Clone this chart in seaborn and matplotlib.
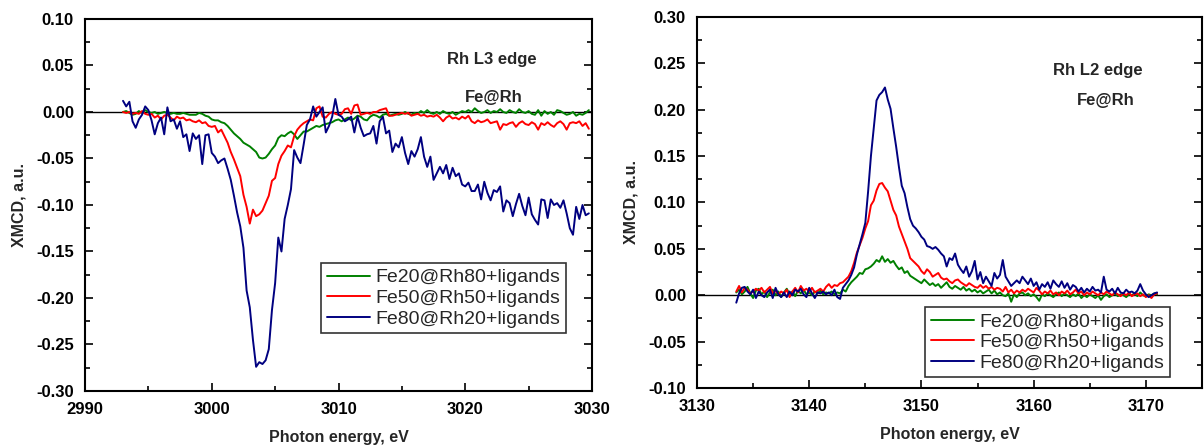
import numpy as np
import pandas as pd
import matplotlib
matplotlib.use("Agg")
import matplotlib.pyplot as plt
from matplotlib.ticker import MultipleLocator, FormatStrFormatter
import seaborn as sns

# ─── Data ─────────────────────────────────────────────────────────────────────
SAMPLES = ["Fe20@Rh80+ligands", "Fe50@Rh50+ligands", "Fe80@Rh20+ligands"]
COLORS = {"Fe20@Rh80+ligands": "#008000",
          "Fe50@Rh50+ligands": "#ff0000",
          "Fe80@Rh20+ligands": "#000080"}

# Rh L3 edge, scan grid 2993.00 ... 3029.75 eV, 0.25 eV step
energy_l3 = np.arange(2993.0, 3029.76, 0.25)

l3_fe20 = [
    0.000, 0.001, -0.001, -0.003, -0.002, 0.001, -0.001, 0.002, 0.000, -0.001, 0.000, -0.002, -0.001, 0.000, -0.001, -0.002,
    -0.001, -0.002, -0.002, -0.001, -0.002, -0.003, -0.003, -0.003, -0.001, -0.002, -0.004, -0.005, -0.008, -0.009, -0.009, -0.011,
    -0.012, -0.015, -0.019, -0.023, -0.026, -0.029, -0.033, -0.035, -0.037, -0.040, -0.043, -0.049, -0.050, -0.049, -0.045, -0.040,
    -0.036, -0.028, -0.025, -0.026, -0.023, -0.021, -0.024, -0.029, -0.025, -0.021, -0.021, -0.019, -0.017, -0.015, -0.016, -0.014,
    -0.013, -0.012, -0.011, -0.009, -0.008, -0.010, -0.008, -0.006, -0.009, -0.007, -0.004, -0.005, -0.008, -0.009, -0.005, -0.003,
    -0.004, -0.006, -0.003, -0.002, -0.004, -0.003, -0.002, -0.003, -0.002, 0.000, -0.002, -0.003, -0.001, -0.002, 0.001, -0.001,
    0.002, -0.001, -0.002, 0.000, -0.002, 0.001, -0.001, -0.002, 0.000, -0.003, -0.001, 0.001, 0.000, 0.002, 0.000, 0.004,
    0.001, -0.001, 0.000, 0.002, -0.001, 0.001, 0.000, 0.003, 0.000, -0.001, 0.002, 0.000, -0.001, 0.003, 0.000, -0.001,
    0.001, -0.002, -0.003, 0.002, -0.004, 0.001, -0.002, 0.000, -0.003, 0.002, 0.001, -0.001, -0.003, -0.002, 0.000, -0.004,
    -0.002, -0.003, -0.001, 0.002,
]
l3_fe50 = [
    0.000, -0.001, 0.000, -0.002, -0.001, -0.002, 0.001, -0.002, -0.003, -0.002, -0.006, -0.004, -0.008, -0.004, -0.003, -0.006,
    -0.009, -0.005, -0.007, -0.006, -0.009, -0.008, -0.010, -0.011, -0.009, -0.012, -0.011, -0.015, -0.016, -0.015, -0.022, -0.019,
    -0.026, -0.033, -0.043, -0.051, -0.060, -0.069, -0.089, -0.102, -0.120, -0.105, -0.112, -0.110, -0.106, -0.098, -0.090, -0.074,
    -0.071, -0.056, -0.047, -0.042, -0.036, -0.038, -0.026, -0.019, -0.015, -0.012, -0.010, -0.008, -0.009, 0.004, 0.006, -0.005,
    -0.006, -0.002, 0.000, -0.002, -0.003, -0.002, 0.003, 0.004, -0.002, 0.007, 0.008, -0.003, -0.002, -0.001, -0.002, 0.000,
    0.000, 0.002, 0.003, 0.004, -0.004, -0.004, -0.003, -0.002, -0.001, -0.002, -0.001, -0.004, -0.003, -0.002, -0.004, -0.003,
    -0.005, -0.004, -0.005, -0.003, -0.006, -0.010, -0.006, -0.004, -0.007, -0.006, -0.008, -0.005, -0.007, -0.004, -0.010, -0.012,
    -0.009, -0.011, -0.010, -0.008, -0.012, -0.011, -0.010, -0.019, -0.013, -0.014, -0.012, -0.011, -0.016, -0.012, -0.010, -0.013,
    -0.014, -0.011, -0.013, -0.019, -0.012, -0.014, -0.011, -0.014, -0.016, -0.012, -0.010, -0.013, -0.019, -0.012, -0.011, -0.012,
    -0.010, -0.015, -0.012, -0.018,
]
l3_fe80 = [
    0.012, 0.006, 0.011, -0.010, -0.017, -0.008, -0.003, 0.006, 0.002, -0.009, -0.024, -0.012, -0.006, -0.024, 0.005, -0.010,
    -0.008, -0.018, -0.010, -0.027, -0.024, -0.042, -0.023, -0.029, -0.025, -0.056, -0.025, -0.024, -0.044, -0.048, -0.055, -0.052,
    -0.050, -0.061, -0.073, -0.090, -0.108, -0.123, -0.146, -0.192, -0.210, -0.245, -0.274, -0.269, -0.271, -0.267, -0.255, -0.213,
    -0.184, -0.135, -0.150, -0.115, -0.100, -0.083, -0.041, -0.049, -0.055, -0.035, -0.014, -0.008, 0.006, -0.005, 0.000, 0.005,
    -0.022, -0.015, -0.005, 0.014, -0.003, -0.005, -0.010, -0.008, -0.005, -0.022, -0.005, -0.017, -0.026, -0.024, -0.023, -0.015,
    -0.034, -0.010, -0.005, -0.023, -0.020, -0.043, -0.034, -0.038, -0.027, -0.044, -0.056, -0.042, -0.048, -0.040, -0.027, -0.048,
    -0.059, -0.048, -0.073, -0.066, -0.059, -0.066, -0.057, -0.072, -0.060, -0.069, -0.066, -0.078, -0.080, -0.076, -0.085, -0.085,
    -0.078, -0.094, -0.075, -0.087, -0.095, -0.084, -0.086, -0.080, -0.107, -0.095, -0.098, -0.112, -0.099, -0.088, -0.101, -0.111,
    -0.092, -0.110, -0.116, -0.121, -0.094, -0.095, -0.114, -0.094, -0.100, -0.098, -0.103, -0.095, -0.109, -0.125, -0.132, -0.102,
    -0.115, -0.100, -0.111, -0.109,
]

# Rh L2 edge, scan grid 3133.50 ... 3171.00 eV, 0.25 eV step
energy_l2 = np.arange(3133.5, 3171.01, 0.25)

l2_fe20 = [
    0.003, 0.006, 0.001, 0.004, 0.009, 0.002, -0.003, 0.005, 0.007, 0.001, 0.004, -0.002, 0.003, 0.006, 0.000, 0.004,
    -0.002, 0.003, 0.007, 0.001, 0.004, -0.001, 0.005, 0.002, 0.006, 0.001, 0.003, 0.000, 0.004, 0.002, 0.005, 0.001,
    0.003, 0.002, 0.004, 0.001, 0.003, 0.002, 0.006, 0.004, 0.010, 0.014, 0.017, 0.020, 0.024, 0.023, 0.028, 0.029,
    0.031, 0.034, 0.038, 0.036, 0.042, 0.036, 0.039, 0.035, 0.037, 0.032, 0.028, 0.030, 0.024, 0.026, 0.021, 0.019,
    0.017, 0.015, 0.013, 0.017, 0.014, 0.011, 0.013, 0.010, 0.012, 0.008, 0.011, 0.014, 0.009, 0.007, 0.010, 0.008,
    0.006, 0.009, 0.005, 0.007, 0.004, 0.006, 0.003, 0.005, 0.002, 0.004, 0.006, 0.002, 0.005, 0.001, 0.003, 0.000,
    -0.001, 0.002, -0.007, 0.001, -0.002, 0.002, 0.003, 0.000, 0.002, -0.001, 0.001, -0.002, -0.006, 0.001, -0.001, 0.002,
    0.000, -0.002, 0.001, 0.003, -0.001, 0.002, 0.000, -0.002, 0.001, -0.001, 0.002, -0.003, 0.000, -0.002, 0.001, -0.001,
    -0.003, 0.000, -0.005, -0.001, 0.001, -0.002, 0.000, 0.002, -0.001, 0.001, 0.000, -0.002, 0.001, 0.000, 0.002, -0.001,
    0.003, 0.000, -0.001, 0.001, 0.000, 0.002, 0.001,
]
l2_fe50 = [
    0.004, 0.010, 0.003, 0.008, 0.006, 0.002, 0.004, 0.007, 0.005, 0.008, 0.003, 0.006, 0.009, 0.002, 0.005, 0.001,
    0.004, 0.002, 0.006, -0.002, 0.004, 0.008, 0.003, 0.010, 0.005, 0.007, 0.004, 0.008, 0.003, 0.005, 0.007, 0.004,
    0.009, 0.012, 0.008, 0.011, 0.010, 0.013, 0.014, 0.017, 0.020, 0.026, 0.035, 0.046, 0.054, 0.062, 0.072, 0.080,
    0.097, 0.102, 0.113, 0.120, 0.121, 0.116, 0.112, 0.102, 0.092, 0.086, 0.074, 0.066, 0.058, 0.050, 0.040, 0.037,
    0.034, 0.031, 0.026, 0.023, 0.028, 0.025, 0.020, 0.022, 0.024, 0.019, 0.017, 0.018, 0.015, 0.013, 0.016, 0.017,
    0.014, 0.012, 0.010, 0.013, 0.011, 0.009, 0.008, 0.011, 0.008, 0.010, 0.007, 0.009, 0.006, 0.008, 0.007, 0.004,
    0.009, 0.003, 0.006, 0.002, 0.005, 0.003, 0.006, 0.004, 0.007, 0.005, 0.003, 0.008, 0.005, 0.001, 0.004, 0.002,
    0.005, 0.001, 0.003, 0.000, 0.004, 0.002, 0.005, 0.001, 0.003, 0.006, 0.002, 0.004, 0.000, 0.003, 0.001, 0.004,
    0.002, 0.000, 0.003, 0.001, 0.004, 0.002, 0.000, 0.003, 0.001, -0.001, 0.002, 0.000, 0.003, -0.001, 0.001, 0.002,
    -0.001, 0.001, -0.002, 0.000, -0.003, 0.001, 0.002,
]
l2_fe80 = [
    -0.008, 0.002, 0.008, 0.009, 0.004, 0.001, 0.006, -0.003, 0.004, 0.000, -0.002, 0.003, 0.006, -0.003, 0.008, 0.001,
    -0.002, 0.003, -0.002, 0.004, 0.000, 0.006, 0.004, 0.007, 0.001, -0.002, 0.008, 0.002, -0.003, 0.003, 0.002, 0.004,
    0.001, 0.003, 0.000, 0.006, -0.002, -0.004, 0.008, 0.012, 0.016, 0.022, 0.030, 0.044, 0.055, 0.066, 0.078, 0.112,
    0.150, 0.180, 0.210, 0.216, 0.219, 0.224, 0.211, 0.201, 0.180, 0.160, 0.138, 0.118, 0.110, 0.095, 0.082, 0.075,
    0.072, 0.068, 0.063, 0.060, 0.053, 0.052, 0.050, 0.052, 0.049, 0.045, 0.042, 0.031, 0.040, 0.038, 0.045, 0.033,
    0.028, 0.024, 0.031, 0.020, 0.026, 0.037, 0.017, 0.025, 0.013, 0.020, 0.015, 0.010, 0.024, 0.018, 0.022, 0.038,
    0.020, 0.015, 0.010, 0.013, 0.016, 0.013, 0.020, 0.016, 0.012, 0.018, 0.010, 0.014, 0.006, 0.012, 0.009, 0.014,
    0.007, 0.016, 0.012, 0.009, 0.015, 0.008, 0.013, 0.006, 0.011, 0.009, 0.004, 0.008, 0.003, 0.007, 0.004, 0.009,
    0.005, 0.006, 0.003, 0.020, 0.006, 0.004, 0.007, 0.002, 0.008, 0.003, 0.002, 0.006, 0.003, 0.004, 0.002, 0.005,
    0.012, 0.005, 0.001, -0.002, 0.000, 0.002, 0.003,
]


def _long_frame(energy, series):
    """Stack series (dict label -> values) into one long DataFrame."""
    parts = []
    for label, values in series.items():
        assert len(values) == len(energy), (label, len(values), len(energy))
        parts.append(pd.DataFrame({"energy": energy, "xmcd": values, "sample": label}))
    return pd.concat(parts, ignore_index=True)


df_l3 = _long_frame(energy_l3, dict(zip(SAMPLES, [l3_fe20, l3_fe50, l3_fe80])))
df_l2 = _long_frame(energy_l2, dict(zip(SAMPLES, [l2_fe20, l2_fe50, l2_fe80])))

# ─── Style ────────────────────────────────────────────────────────────────────
sns.set_theme(style="ticks")
plt.rcParams["font.family"] = ["Liberation Sans", "DejaVu Sans"]
plt.rcParams["font.weight"] = "bold"
plt.rcParams["axes.labelweight"] = "bold"
plt.rcParams["axes.unicode_minus"] = False

fig = plt.figure(figsize=(12.04, 4.47), dpi=100)
ax1 = fig.add_axes([0.0706, 0.1253, 0.4211, 0.8322])
ax2 = fig.add_axes([0.5789, 0.1320, 0.4194, 0.8300])

panels = [
    (ax1, df_l3, (2990, 3030), (-0.30, 0.10), "Rh L3 edge", (0.803, 0.890), (0.807, 0.790), (0.4655, 0.344)),
    (ax2, df_l2, (3130, 3175), (-0.10, 0.30), "Rh L2 edge", (0.794, 0.857), (0.810, 0.774), (0.4515, 0.218)),
]

for ax, dat, xlim, ylim, edge, edge_pos, tag_pos, leg_pos in panels:
    ax.axhline(0, color="black", lw=1.0, zorder=1)
    sns.lineplot(data=dat, x="energy", y="xmcd", hue="sample", hue_order=SAMPLES,
                 palette=COLORS, estimator=None, sort=False, lw=1.4, ax=ax, zorder=2)
    ax.set_xlim(*xlim)
    ax.set_ylim(*ylim)
    ax.xaxis.set_major_locator(MultipleLocator(10))
    ax.xaxis.set_minor_locator(MultipleLocator(5))
    ax.yaxis.set_major_locator(MultipleLocator(0.05))
    ax.yaxis.set_minor_locator(MultipleLocator(0.025))
    ax.yaxis.set_major_formatter(FormatStrFormatter("%.2f"))
    ax.tick_params(which="both", direction="in", right=True, top=False,
                   width=1.2, labelsize=12, colors="black")
    ax.tick_params(which="major", length=6, pad=8)
    ax.tick_params(which="minor", length=3.5)
    for s in ax.spines.values():
        s.set_linewidth(1.5)
        s.set_color("black")
    ax.set_xlabel("Photon energy, eV", fontsize=11.5, labelpad=9)
    ax.set_ylabel("XMCD, a.u.", fontsize=11.5, labelpad=7)

    ax.text(*edge_pos, edge, transform=ax.transAxes, ha="center", va="center",
            fontsize=12, fontweight="bold")
    ax.text(*tag_pos, "Fe@Rh", transform=ax.transAxes, ha="center", va="center",
            fontsize=12, fontweight="bold")

    handles, labels = ax.get_legend_handles_labels()
    leg = ax.legend(handles, labels, loc="upper left", bbox_to_anchor=leg_pos,
                    borderaxespad=0, frameon=True, fancybox=False,
                    prop={"weight": "normal", "size": 14},
                    handlelength=2.2, handletextpad=0.3, labelspacing=0.15,
                    borderpad=0.3)
    leg.get_frame().set_edgecolor("black")
    leg.get_frame().set_linewidth(1.2)
    for line in leg.get_lines():
        line.set_linewidth(1.4)

fig.savefig("out.png", dpi=100)
